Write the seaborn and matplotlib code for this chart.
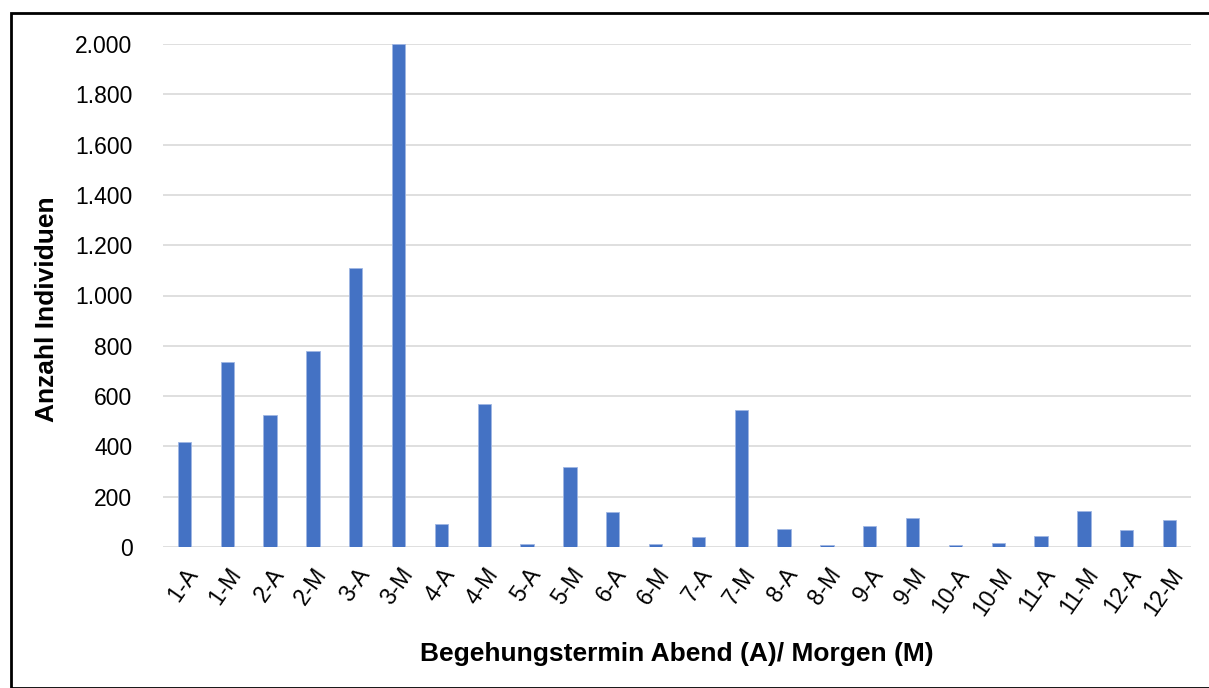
import matplotlib
matplotlib.use("Agg")
import matplotlib.pyplot as plt
import matplotlib.ticker as mticker
import pandas as pd
import seaborn as sns

# Begehungstermine (A = Abend, M = Morgen)
termine = ["1-A", "1-M", "2-A", "2-M", "3-A", "3-M", "4-A", "4-M",
           "5-A", "5-M", "6-A", "6-M", "7-A", "7-M", "8-A", "8-M",
           "9-A", "9-M", "10-A", "10-M", "11-A", "11-M", "12-A", "12-M"]
individuen = [417, 734, 526, 778, 1108, 2000, 93, 567,
              12, 318, 138, 12, 40, 543, 73, 8,
              83, 114, 8, 15, 42, 145, 66, 106]

BAR_COLOR  = "#4472C4"
GRID_COLOR = "#D9D9D9"

sns.set_theme(style="white")
plt.rcParams["font.family"] = ["Liberation Sans", "DejaVu Sans"]
plt.rcParams["text.color"] = "black"

df = pd.DataFrame({"termin": termine, "anzahl": individuen})

fig = plt.figure(figsize=(12.09, 6.88), dpi=100)
ax = fig.add_axes([163 / 1209, 1 - 547 / 688, 1028 / 1209, 503 / 688])

sns.barplot(data=df, x="termin", y="anzahl", color=BAR_COLOR,
            width=0.31, saturation=1, ax=ax, zorder=3,
            edgecolor="#9FB6E3", linewidth=0.6)

ax.set_ylim(0, 2000)
ax.set_yticks(range(0, 2001, 200))
ax.yaxis.set_major_formatter(
    mticker.FuncFormatter(lambda v, _: f"{int(v):,}".replace(",", ".")))
ax.set_xlim(-0.5, len(termine) - 0.5)
ax.grid(axis="y", color=GRID_COLOR, linewidth=1.2, zorder=0)
for s in ax.spines.values():
    s.set_visible(False)
ax.tick_params(axis="both", length=0, labelsize=16.5, labelcolor="black")
ax.tick_params(axis="y", pad=22)
ax.tick_params(axis="x", pad=12)
plt.setp(ax.get_xticklabels(), rotation=55, ha="right", rotation_mode="anchor")

ax.set_xlabel("Begehungstermin Abend (A)/ Morgen (M)", fontsize=19,
              fontweight="bold", labelpad=16, color="black")
ax.set_ylabel("Anzahl Individuen", fontsize=19, fontweight="bold",
              color="black")
ax.yaxis.set_label_coords(-0.101, 0.473)

# chart frame like the Excel chart area
fig.patches.append(plt.Rectangle((11 / 1209, 0), 1.2, 1 - 13 / 688,
                                 transform=fig.transFigure, fill=False,
                                 edgecolor="black", linewidth=2))

fig.savefig("out.png", dpi=100)
